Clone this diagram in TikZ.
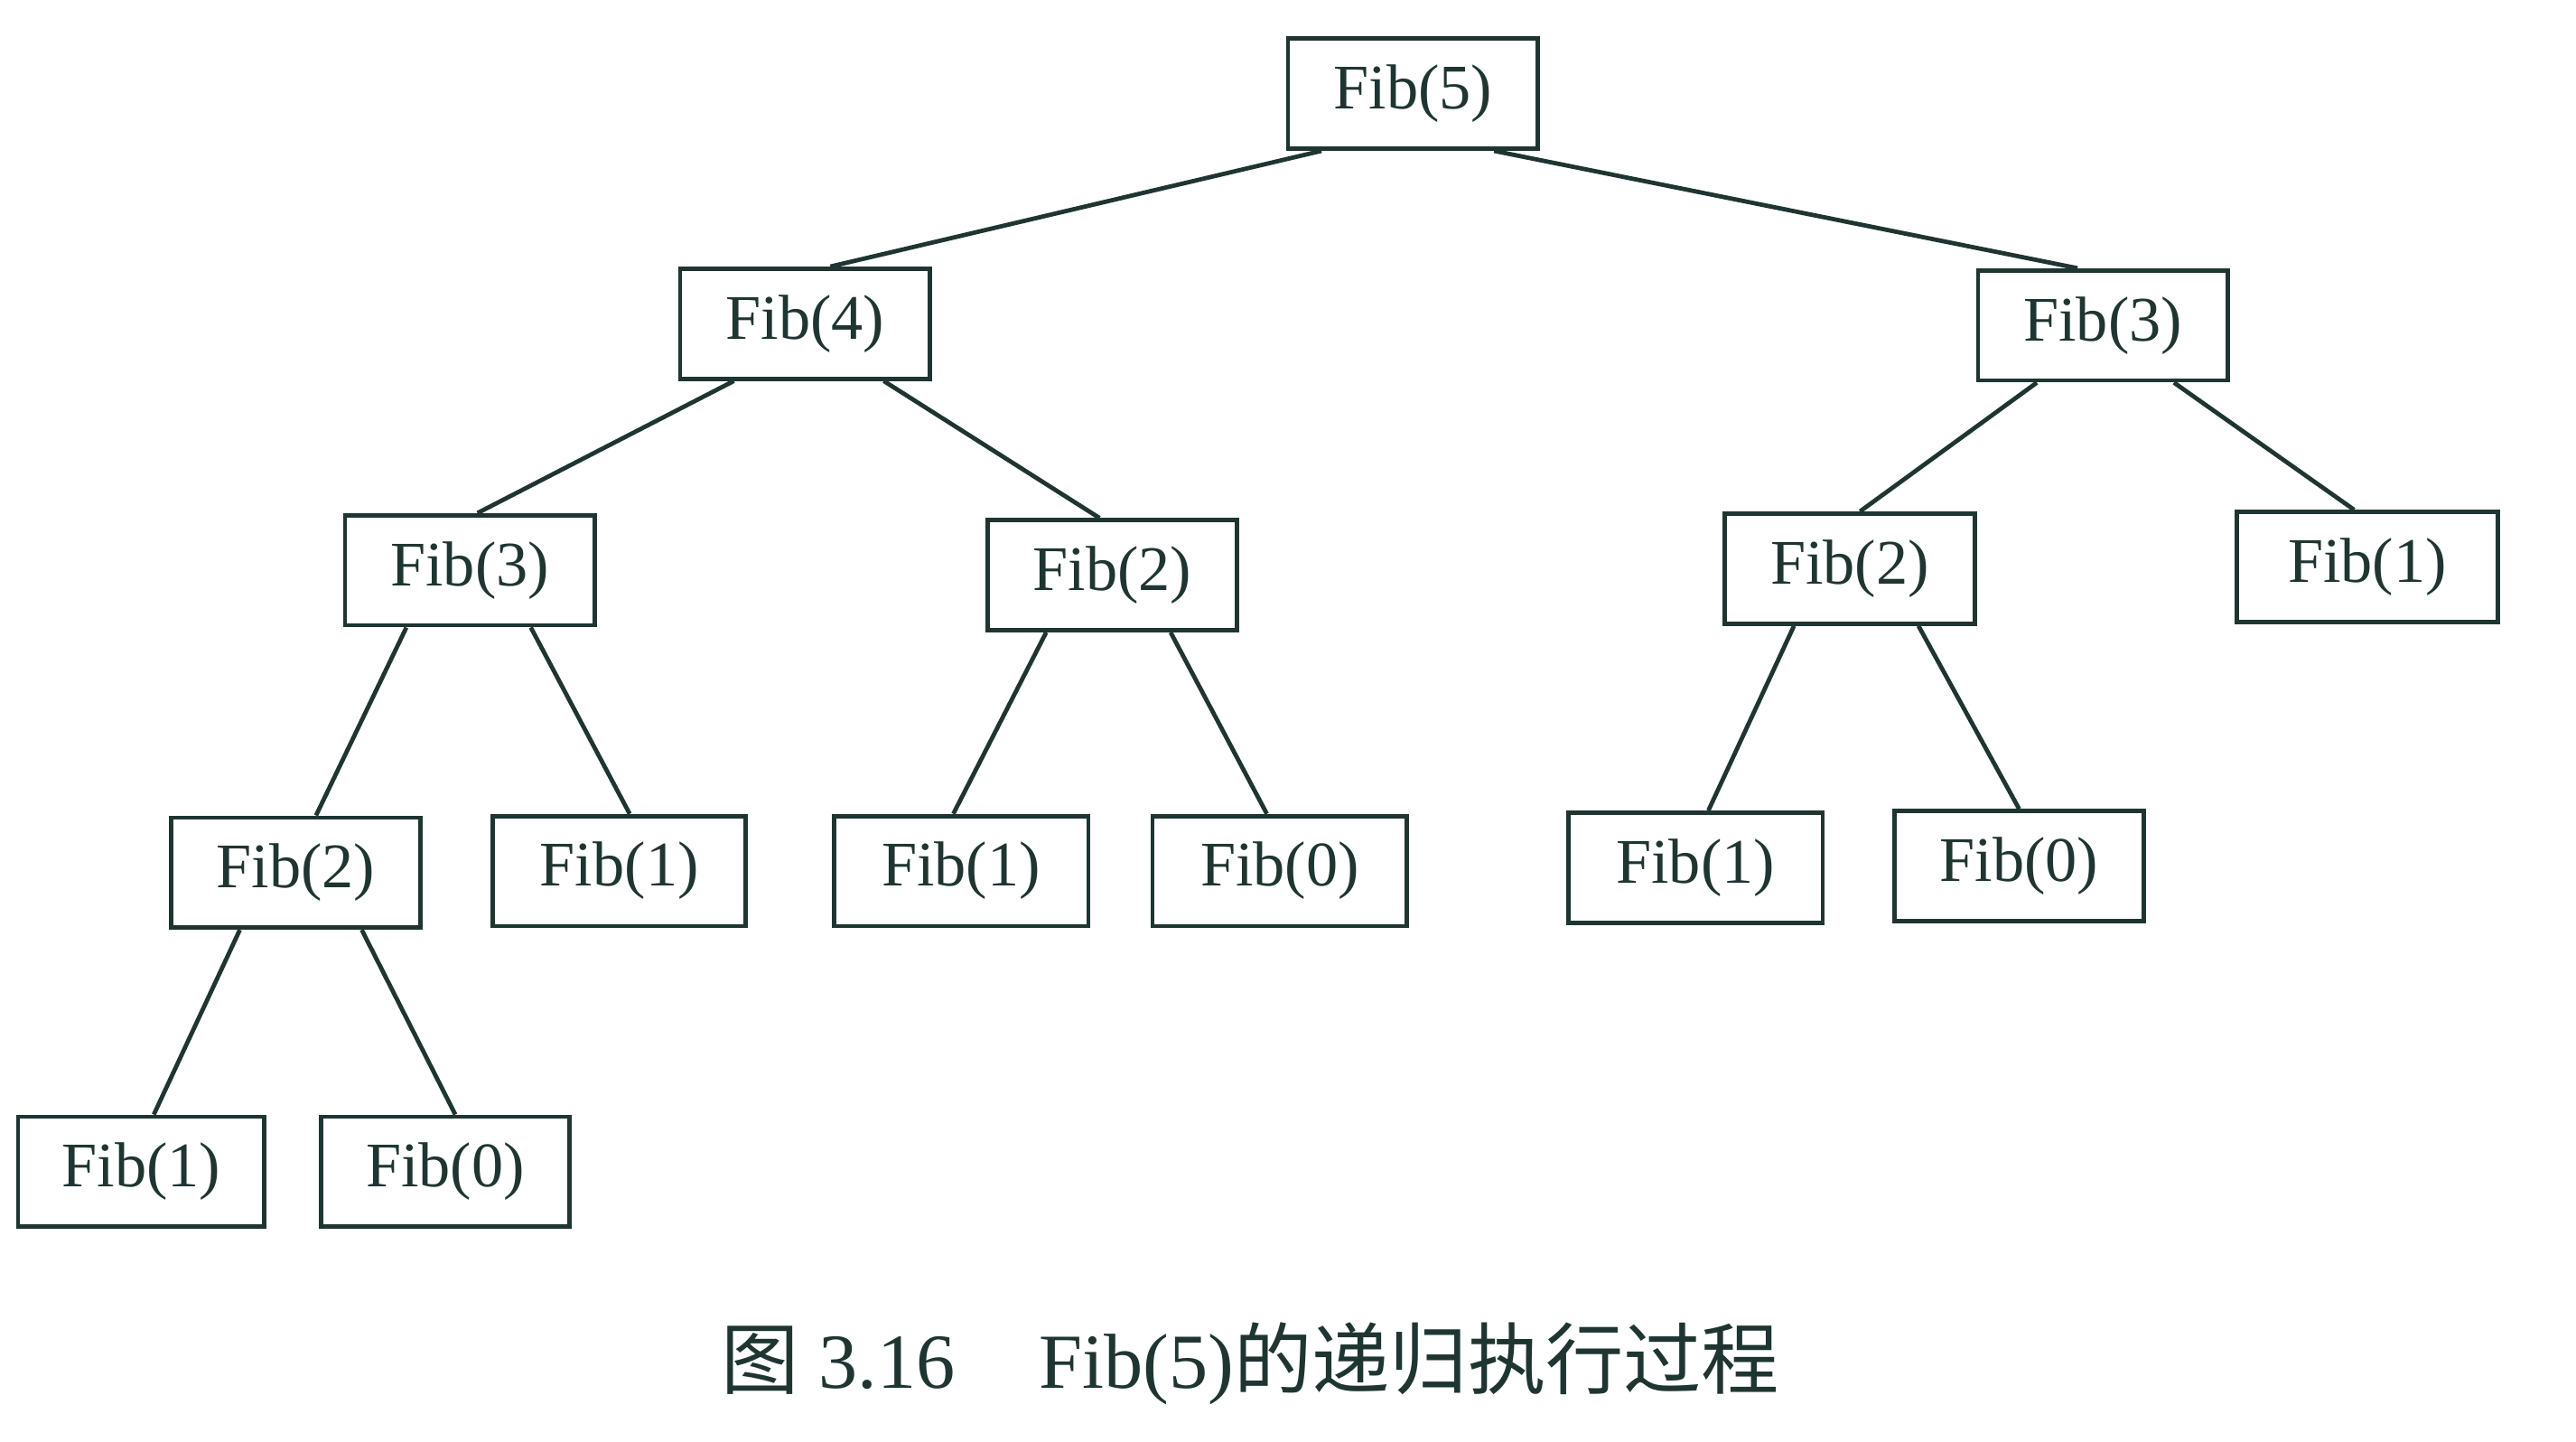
\documentclass[tikz,border=0pt]{standalone}
\usepackage{fontspec}
\setmainfont{Liberation Serif}
\newfontfamily\cjk{Noto Sans CJK SC}
\usetikzlibrary{calc}
\definecolor{ink}{HTML}{1F3532}
\begin{document}
\begin{tikzpicture}[x=0.02cm,y=-0.02cm,
  fb/.style={draw=ink,line width=1.5pt,minimum width=3.04cm,minimum height=1.34cm,inner sep=0pt,
    text=ink,font=\fontsize{22}{26}\selectfont},
  edge/.style={draw=ink,line width=1.5pt}]
\useasboundingbox (0,0) rectangle (1568,877);
\node[fb] (n5) at (860,57) {Fib(5)};
\node[fb] (n4) at (490,197) {Fib(4)};
\node[fb] (n3r) at (1280,198) {Fib(3)};
\node[fb] (n3l) at (286,347) {Fib(3)};
\node[fb] (n2m) at (677,350) {Fib(2)};
\node[fb] (n2r) at (1126,346) {Fib(2)};
\node[fb,minimum width=3.18cm] (n1r) at (1441,345) {Fib(1)};
\node[fb] (n2l) at (180,531) {Fib(2)};
\node[fb,minimum width=3.08cm] (n1a) at (377,530) {Fib(1)};
\node[fb,minimum width=3.1cm] (n1b) at (585,530) {Fib(1)};
\node[fb,minimum width=3.1cm] (n0b) at (779,530) {Fib(0)};
\node[fb,minimum width=3.1cm] (n1c) at (1032,528) {Fib(1)};
\node[fb] (n0c) at (1229,527) {Fib(0)};
\node[fb,minimum width=3.0cm] (n1d) at (86,713) {Fib(1)};
\node[fb,minimum width=3.02cm] (n0d) at (271,713) {Fib(0)};
\node[text=ink,inner sep=0pt,font=\fontsize{27}{30}\selectfont] (cap) at (761,830)
  {{\cjk 图}\hspace{7pt}3.16\hspace{29pt}Fib(5){\cjk 的递归执行过程}};
\newcommand{\conn}[4]{\draw[edge] ($(#1.south west)!#2!(#1.south east)$) -- ($(#3.north west)!#4!(#3.north east)$);}
\conn{n5}{0.14}{n4}{0.6}
\conn{n5}{0.82}{n3r}{0.4}
\conn{n4}{0.22}{n3l}{0.53}
\conn{n4}{0.81}{n2m}{0.45}
\conn{n3r}{0.24}{n2r}{0.54}
\conn{n3r}{0.78}{n1r}{0.45}
\conn{n3l}{0.25}{n2l}{0.58}
\conn{n3l}{0.74}{n1a}{0.54}
\conn{n2m}{0.24}{n1b}{0.47}
\conn{n2m}{0.73}{n0b}{0.45}
\conn{n2r}{0.28}{n1c}{0.55}
\conn{n2r}{0.77}{n0c}{0.5}
\conn{n2l}{0.28}{n1d}{0.55}
\conn{n2l}{0.76}{n0d}{0.54}
\end{tikzpicture}
\end{document}
